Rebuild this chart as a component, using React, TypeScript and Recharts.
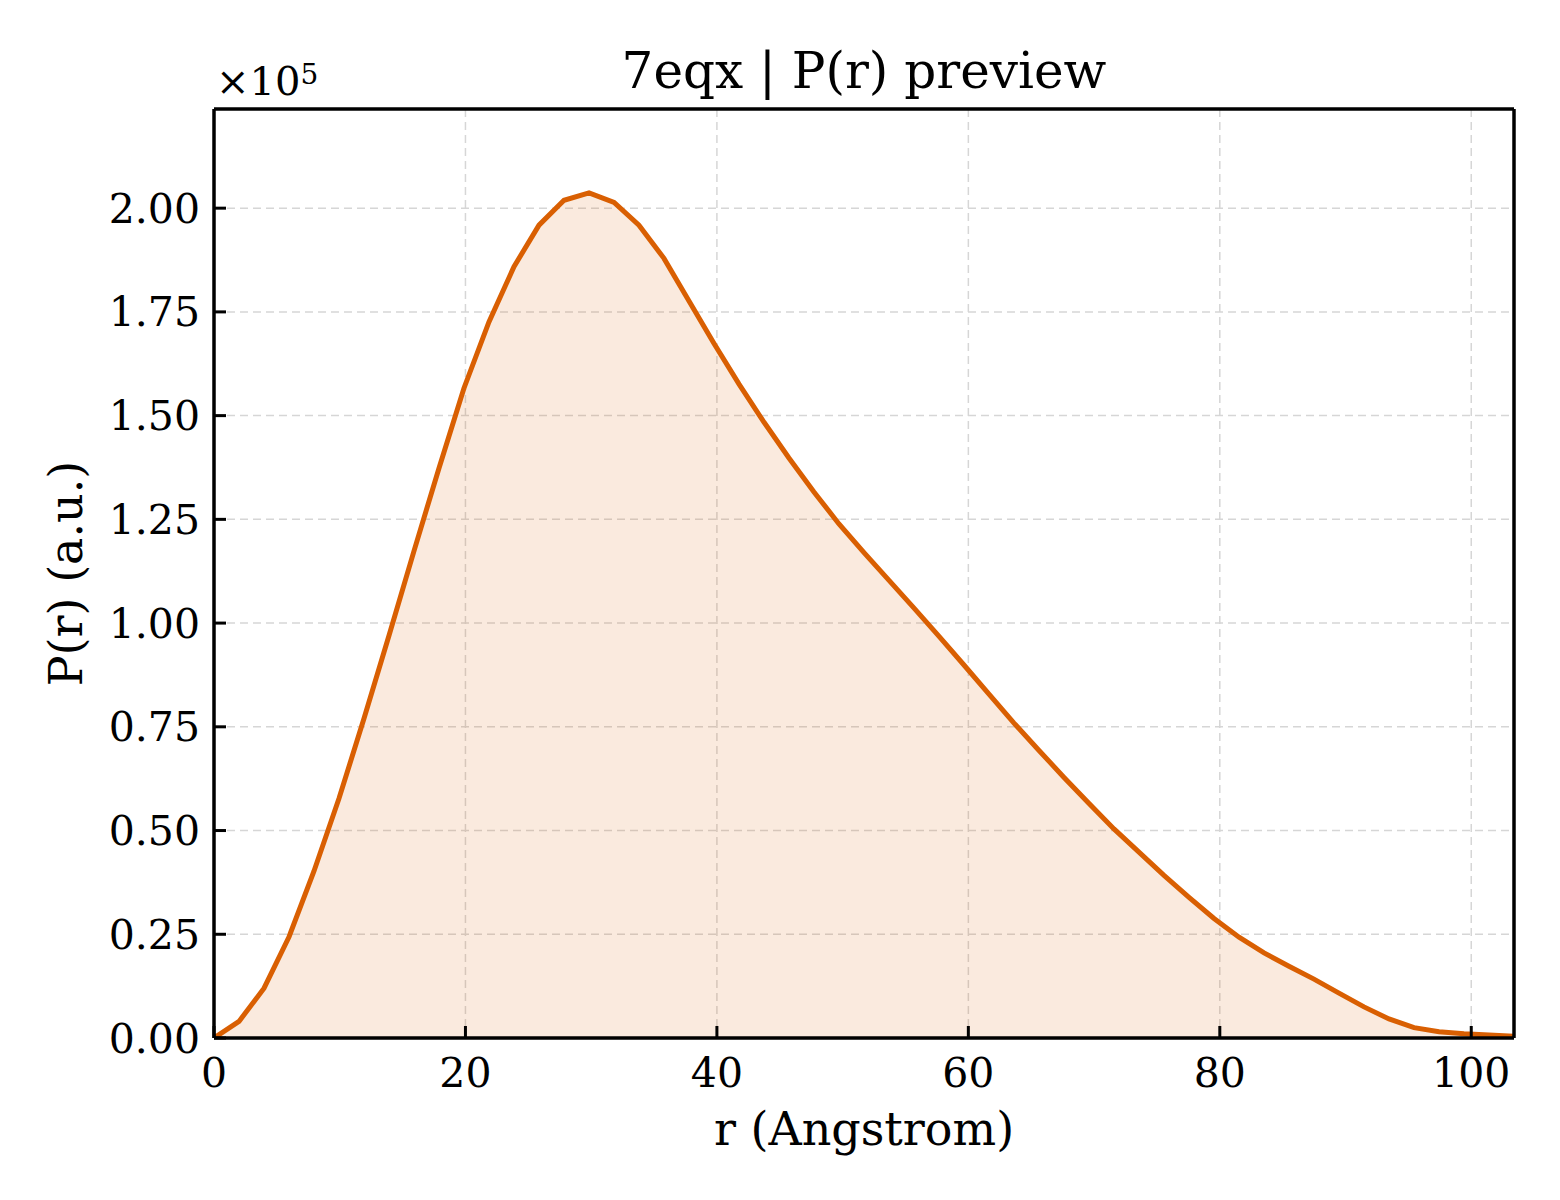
import { ComposedChart, Area, XAxis, YAxis, CartesianGrid } from 'recharts'

const rValues = [
  0, 1.99, 3.98, 5.97, 7.95, 9.94, 11.93, 13.92, 15.91, 17.9, 19.88, 21.87, 23.86, 25.85, 27.84,
  29.83, 31.82, 33.8, 35.79, 37.78, 39.77, 41.76, 43.75, 45.73, 47.72, 49.71, 51.7, 53.69, 55.68,
  57.67, 59.65, 61.64, 63.63, 65.62, 67.61, 69.6, 71.58, 73.57, 75.56, 77.55, 79.54, 81.53, 83.52,
  85.5, 87.49, 89.48, 91.47, 93.46, 95.45, 97.44, 99.42, 101.41, 103.4,
]

const prValues = [
  0, 4000, 12000, 24400, 40200, 57700, 77000, 97000, 117400, 137400, 156600, 172600, 185900,
  195900, 201900, 203700, 201400, 195900, 187900, 177600, 167400, 157600, 148400, 139800, 131600,
  123900, 117000, 110300, 103600, 96800, 89900, 82900, 75900, 69300, 62800, 56500, 50400, 44800,
  39200, 33900, 28800, 24300, 20500, 17300, 14200, 10800, 7500, 4600, 2500, 1500, 1000, 700, 400,
]

const xTicks = [0, 20, 40, 60, 80, 100]
const yTicks = [0, 25000, 50000, 75000, 100000, 125000, 150000, 175000, 200000]

const chartTitle = '7eqx | P(r) preview'
const xLabel = 'r (Angstrom)'
const yLabel = 'P(r) (a.u.)'

const data = rValues.map((r, i) => ({ r, pr: prValues[i] }))

const FONT = '"DejaVu Serif", serif'
const LINE = '#d95f02'

export default function App() {
  return (
    <div style={{ position: 'absolute', left: 0, top: 0, width: 1560, height: 1200, background: '#fff', fontFamily: FONT }}>
      <div style={{ position: 'absolute', left: 214, width: 1300, top: 41, textAlign: 'center', fontSize: 50, color: '#000', lineHeight: '60px', whiteSpace: 'nowrap' }}>
        {chartTitle}
      </div>
      <div style={{ position: 'absolute', left: 216, top: 57, fontSize: 40, color: '#000', lineHeight: '48px', whiteSpace: 'nowrap' }}>
        ×10<sup style={{ fontSize: 28, verticalAlign: 'top', position: 'relative', top: -6 }}>5</sup>
      </div>
      <ComposedChart
        width={1560}
        height={1200}
        data={data}
        margin={{ top: 108, right: 45, bottom: 102, left: 114 }}
      >
        <CartesianGrid stroke="#d6d6d6" strokeWidth={1.5} strokeDasharray="8 5" horizontalValues={yTicks} verticalValues={xTicks} />
        <XAxis
          dataKey="r"
          type="number"
          domain={[0, 103.4]}
          ticks={xTicks}
          height={60}
          allowDataOverflow
          axisLine={{ stroke: '#000', strokeWidth: 3.5 }}
          tickLine={{ stroke: '#000', strokeWidth: 3 }}
          tickSize={-12}
          tickMargin={32}
          tick={{ fill: '#000', fontSize: 41, fontFamily: FONT }}
          label={{ value: xLabel, position: 'bottom', offset: 14, fill: '#000', fontSize: 46, fontFamily: FONT }}
        />
        <XAxis
          xAxisId="top"
          orientation="top"
          dataKey="r"
          type="number"
          domain={[0, 103.4]}
          height={1}
          tick={false}
          tickLine={false}
          axisLine={{ stroke: '#000', strokeWidth: 3.5 }}
        />
        <YAxis
          type="number"
          domain={[0, 223900]}
          ticks={yTicks}
          width={100}
          allowDataOverflow
          axisLine={{ stroke: '#000', strokeWidth: 3.5 }}
          tickLine={{ stroke: '#000', strokeWidth: 3 }}
          tickSize={-12}
          tickMargin={26}
          tickFormatter={(v: number) => (v / 100000).toFixed(2)}
          tick={{ fill: '#000', fontSize: 41, fontFamily: FONT }}
          label={{ value: yLabel, angle: -90, position: 'left', offset: 48, fill: '#000', fontSize: 46, fontFamily: FONT, textAnchor: 'middle' }}
        />
        <YAxis
          yAxisId="right"
          orientation="right"
          domain={[0, 223900]}
          width={1}
          tick={false}
          tickLine={false}
          axisLine={{ stroke: '#000', strokeWidth: 3.5 }}
        />
        <Area
          type="linear"
          dataKey="pr"
          stroke={LINE}
          strokeWidth={5}
          fill={LINE}
          fillOpacity={0.13}
          dot={false}
          activeDot={false}
          isAnimationActive={false}
        />
      </ComposedChart>
    </div>
  )
}
